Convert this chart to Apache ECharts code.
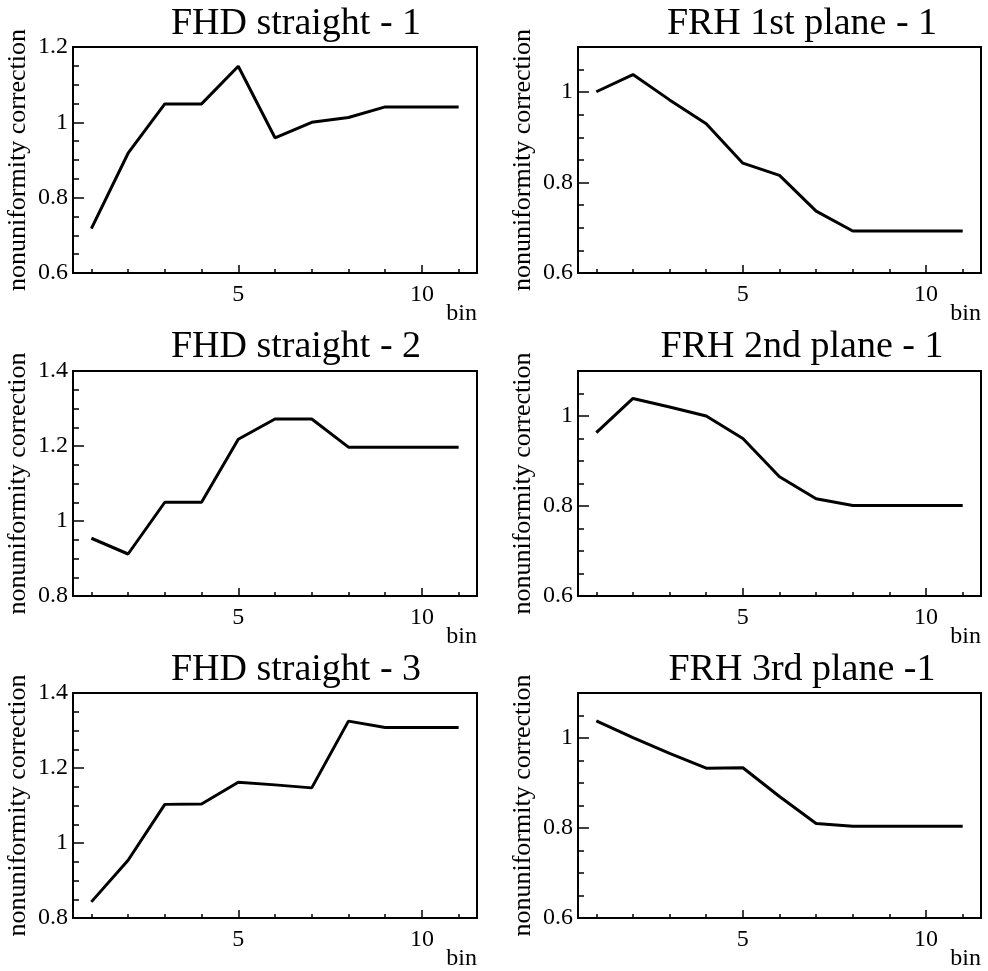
<!DOCTYPE html>
<html>
<head>
<meta charset="utf-8">
<script src="https://cdn.jsdelivr.net/npm/echarts@6/dist/echarts.min.js"></script>
<style>
html,body{margin:0;padding:0;background:#fff;}
#chart{width:988px;height:971px;}
</style>
</head>
<body>
<div id="chart"></div>
<script>
// ---- data ----
var bins = [1, 2, 3, 4, 5, 6, 7, 8, 9, 10, 11];
var titles = ["FHD straight - 1", "FRH 1st plane - 1", "FHD straight - 2", "FRH 2nd plane - 1", "FHD straight - 3", "FRH 3rd plane -1"];
var fhd1 = [0.718, 0.918, 1.049, 1.049, 1.149, 0.959, 1.000, 1.013, 1.041, 1.041, 1.041];
var frh1 = [1.001, 1.039, 0.983, 0.930, 0.843, 0.816, 0.737, 0.693, 0.693, 0.693, 0.693];
var fhd2 = [0.954, 0.912, 1.050, 1.050, 1.218, 1.272, 1.272, 1.197, 1.197, 1.197, 1.197];
var frh2 = [0.963, 1.039, 1.020, 1.000, 0.950, 0.865, 0.816, 0.801, 0.801, 0.801, 0.801];
var fhd3 = [0.843, 0.954, 1.103, 1.104, 1.162, 1.155, 1.147, 1.325, 1.308, 1.308, 1.308];
var frh3 = [1.038, 1.001, 0.966, 0.933, 0.934, 0.870, 0.810, 0.804, 0.804, 0.804, 0.804];
var seriesValues = [fhd1, frh1, fhd2, frh2, fhd3, frh3];

// tick labels / tick positions
var xMajorTicks = [5, 10];
var xMinorTicks = [1, 2, 3, 4, 5, 6, 7, 8, 9, 10, 11];
var yMajorA = [0.6, 0.8, 1.0, 1.2];
var yMinorA = [0.6, 0.65, 0.7, 0.75, 0.8, 0.85, 0.9, 0.95, 1.0, 1.05, 1.1, 1.15, 1.2];
var yMajorB = [0.8, 1.0, 1.2, 1.4];
var yMinorB = [0.8, 0.85, 0.9, 0.95, 1.0, 1.05, 1.1, 1.15, 1.2, 1.25, 1.3, 1.35, 1.4];
var yMajorC = [0.6, 0.8, 1.0];
var yMinorC = [0.6, 0.65, 0.7, 0.75, 0.8, 0.85, 0.9, 0.95, 1.0, 1.05, 1.1];
var yRanges = [[0.6, 1.2], [0.6, 1.1], [0.8, 1.4], [0.6, 1.1], [0.8, 1.4], [0.6, 1.1]];
var yMajors = [yMajorA, yMajorC, yMajorB, yMajorC, yMajorB, yMajorC];
var yMinors = [yMinorA, yMinorC, yMinorB, yMinorC, yMinorB, yMinorC];
var xRange = [0.5, 11.5];
var yTitle = "nonuniformity correction";
var xTitle = "bin";

// ---- layout ----
var FONT = '"Liberation Serif", "DejaVu Serif", serif';
var colLeft = [73, 578];
var colWidth = [404, 403];
var rowTop = [47, 371, 693];
var rowHeight = [226, 225, 226];
var titleCenter = [296, 802];
var titleTop = [5, 328, 651];

var grids = [], xAxes = [], yAxes = [], series = [], titleArr = [];
for (var i = 0; i < 6; i++) {
  var c = i % 2, r = Math.floor(i / 2);
  grids.push({
    left: colLeft[c], top: rowTop[r], width: colWidth[c], height: rowHeight[r],
    show: true, borderColor: '#000', borderWidth: 2, backgroundColor: 'transparent',
    containLabel: false
  });
  titleArr.push({
    text: titles[i], left: titleCenter[c], top: titleTop[r], textAlign: 'center', padding: 0,
    textStyle: {fontFamily: FONT, fontSize: 38, fontWeight: 'normal', color: '#000'}
  });
  // main x axis (major ticks, labels, name)
  xAxes.push({
    type: 'value', gridIndex: i, position: 'bottom', min: xRange[0], max: xRange[1],
    axisLine: {show: false, onZero: false},
    splitLine: {show: false},
    axisTick: {show: true, inside: true, length: 8, customValues: xMajorTicks, lineStyle: {color: '#000', width: 1.5}},
    axisLabel: {show: true, customValues: xMajorTicks, margin: 10, color: '#000', fontFamily: FONT, fontSize: 24},
    name: xTitle, nameLocation: 'end', nameGap: 0,
    nameTextStyle: {fontFamily: FONT, fontSize: 24, color: '#000', align: 'right', verticalAlign: 'top', padding: [29, 0, 0, 0]}
  });
  // minor x ticks
  xAxes.push({
    type: 'value', gridIndex: i, position: 'bottom', min: xRange[0], max: xRange[1],
    axisLine: {show: false, onZero: false},
    splitLine: {show: false},
    axisTick: {show: true, inside: true, length: 4, customValues: xMinorTicks, lineStyle: {color: '#000', width: 1.5}},
    axisLabel: {show: false}
  });
  // main y axis
  yAxes.push({
    type: 'value', gridIndex: i, position: 'left', min: yRanges[i][0], max: yRanges[i][1],
    axisLine: {show: false, onZero: false},
    splitLine: {show: false},
    axisTick: {show: true, inside: true, length: 11, customValues: yMajors[i], lineStyle: {color: '#000', width: 1.5}},
    axisLabel: {show: true, customValues: yMajors[i], margin: 5, color: '#000', fontFamily: FONT, fontSize: 24},
    name: yTitle, nameLocation: 'middle', nameRotate: 90, nameGap: 42,
    nameTextStyle: {fontFamily: FONT, fontSize: 26, color: '#000'}
  });
  // minor y ticks
  yAxes.push({
    type: 'value', gridIndex: i, position: 'left', min: yRanges[i][0], max: yRanges[i][1],
    axisLine: {show: false, onZero: false},
    splitLine: {show: false},
    axisTick: {show: true, inside: true, length: 6, customValues: yMinors[i], lineStyle: {color: '#000', width: 1.5}},
    axisLabel: {show: false}
  });
  var vals = seriesValues[i];
  var pts = bins.map(function (b, k) { return [b, vals[k]]; });
  series.push({
    type: 'line', xAxisIndex: 2 * i, yAxisIndex: 2 * i, data: pts,
    showSymbol: false, symbol: 'none', silent: true, animation: false,
    lineStyle: {color: '#000', width: 3}
  });
}

var chart = echarts.init(document.getElementById('chart'), null, {renderer: 'canvas'});
chart.setOption({
  animation: false,
  backgroundColor: '#fff',
  title: titleArr,
  grid: grids,
  xAxis: xAxes,
  yAxis: yAxes,
  series: series
});
</script>
</body>
</html>
